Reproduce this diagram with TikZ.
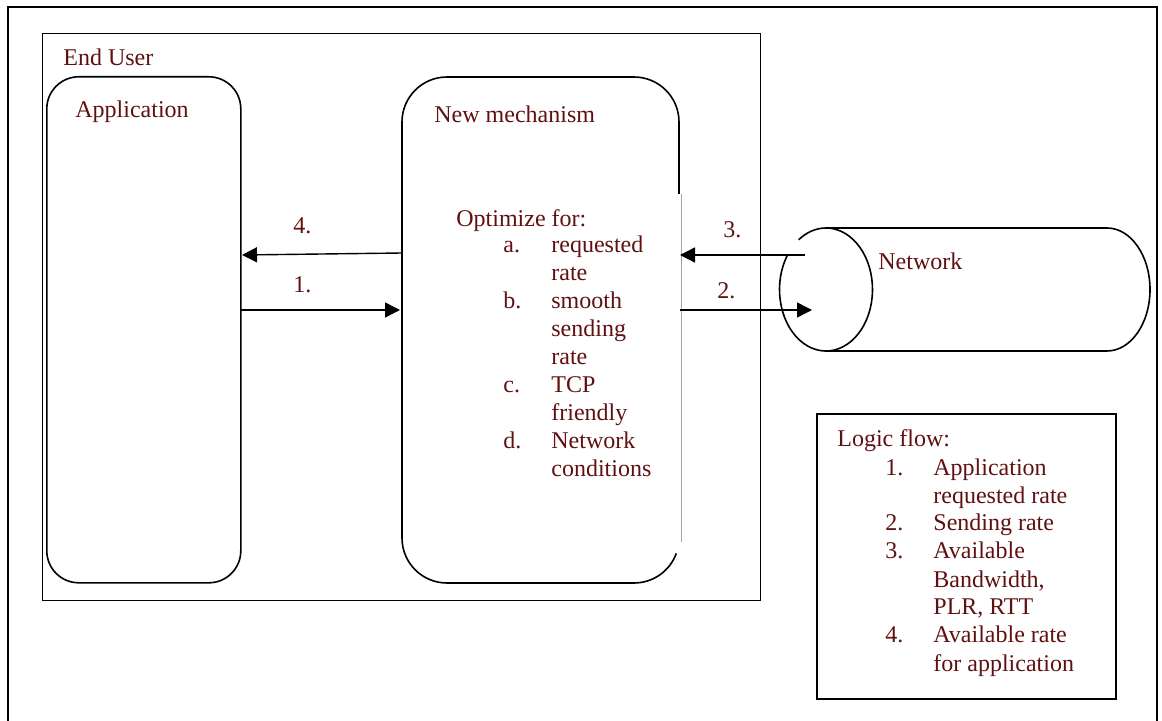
\documentclass[tikz,border=0pt]{standalone}
\usepackage{fontspec}
\setmainfont{Liberation Serif}
\usetikzlibrary{arrows.meta}
\definecolor{txt}{RGB}{96,16,16}
\begin{document}
\begin{tikzpicture}[x=0.5pt,y=-0.5pt,
  lbl/.style={anchor=base west,inner sep=0pt,text=txt,font=\fontsize{12}{14}\selectfont},
  outerframe/.style={line width=1pt},
  box/.style={line width=0.8pt},
  arr/.style={line width=0.7pt,-{Triangle[length=7.5pt,width=7.5pt]}}]
\useasboundingbox (0,0) rectangle (1162,721);
% outer frame (open at the bottom)
\draw[outerframe] (8,721) -- (8,7) -- (1157,7) -- (1157,721);
% End User box
\node[draw,line width=0.7pt,anchor=north west,inner sep=0pt,minimum width=359pt,minimum height=283.5pt] (eu) at (42,33) {};
% Application box
\node[box,draw,rounded corners=16pt,anchor=north west,inner sep=0pt,minimum width=97pt,minimum height=253pt] (app) at (46,76) {};
% New mechanism box
\draw[box] (679,194) -- (679,122) arc[start angle=0,end angle=90,radius=22.5pt]
  -- (447,77) arc[start angle=90,end angle=180,radius=22.5pt]
  -- (402,538) arc[start angle=180,end angle=270,radius=22.5pt]
  -- (634,583) arc[start angle=270,end angle=340,radius=22.5pt];
\draw[gray!70,line width=0.5pt] (681,194) -- (681,542);
% Network cylinder
\draw[box] (826,289.5) ++(145:23.25pt and 30.75pt) arc[start angle=145,end angle=486,x radius=23.25pt,y radius=30.75pt];
\draw[box] (826,228) -- (1107,228) arc[start angle=90,end angle=-90,x radius=21.5pt,y radius=30.75pt] -- (826,351);
% Logic box
\node[draw,line width=0.9pt,anchor=north west,inner sep=0pt,minimum width=149.5pt,minimum height=142.5pt] (logic) at (816,413) {};
% texts
\node[lbl] (tEU) at (63,66) {End User};
\node[lbl] (tApp) at (75,118) {Application};
\node[lbl] (tMech) at (434,123) {New mechanism};
\node[lbl] (tOpt) at (456,227) {Optimize for:};
\node[lbl] (tOptList) at (503,253) {\begin{tabular}[t]{@{}p{24pt}@{}l@{}}
a. & requested\\
   & rate\\
b. & smooth\\
   & sending\\
   & rate\\
c. & TCP\\
   & friendly\\
d. & Network\\
   & conditions
\end{tabular}};
\node[lbl] (tNet) at (878,270) {Network};
\node[lbl] (tLogic) at (837,447) {Logic flow:};
\node[lbl] (tLogicList) at (885,475) {\begin{tabular}[t]{@{}p{24pt}@{}l@{}}
1. & Application\\
   & requested rate\\
2. & Sending rate\\
3. & Available\\
   & Bandwidth,\\
   & PLR, RTT\\
4. & Available rate\\
   & for application
\end{tabular}};
% arrows
\coordinate (m4) at (402,253);
\coordinate (a4) at (242,255);
\coordinate (a1) at (240,310);
\coordinate (m1) at (400,310);
\coordinate (n3) at (805,255);
\coordinate (m3) at (680,255);
\coordinate (m2) at (680,310);
\coordinate (n2) at (812,310);
\draw[arr] (m4) -- (a4);
\draw[arr] (a1) -- (m1);
\draw[arr] (n3) -- (m3);
\draw[arr] (m2) -- (n2);
\node[lbl] (l4) at (293,234) {4.};
\node[lbl] (l1) at (293,293) {1.};
\node[lbl] (l3) at (723,238) {3.};
\node[lbl] (l2) at (717,299) {2.};
\end{tikzpicture}
\end{document}
